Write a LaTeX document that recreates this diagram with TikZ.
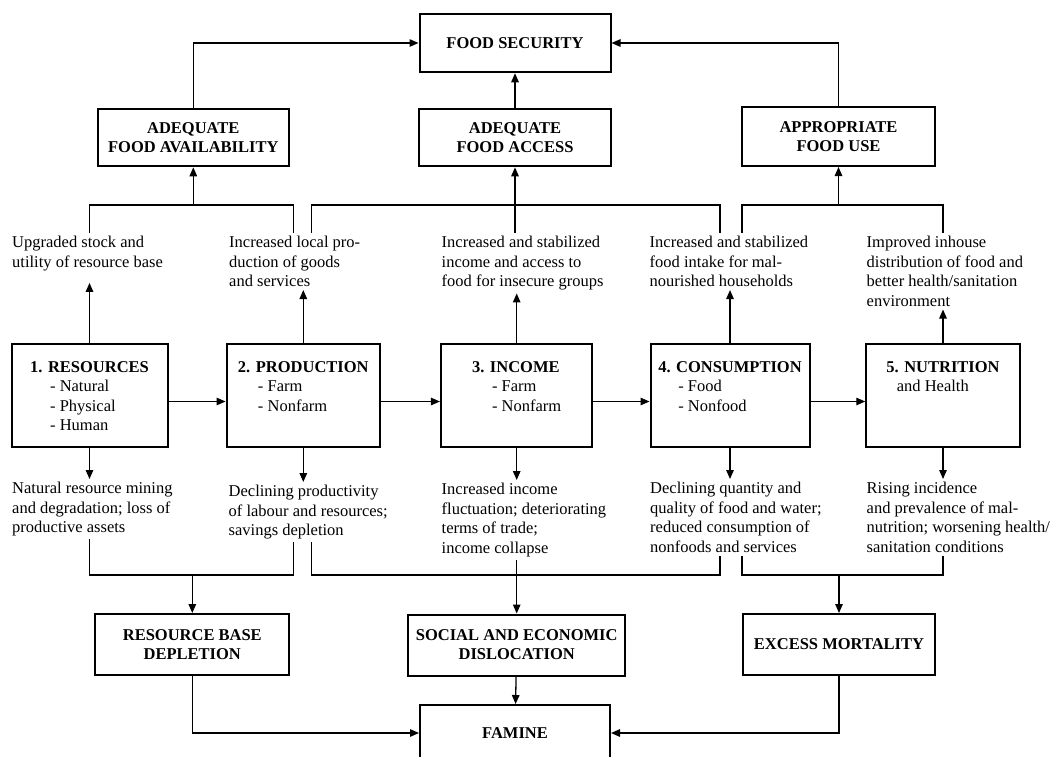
\documentclass[tikz,border=0pt]{standalone}
\usepackage{fontspec}
\setmainfont{Liberation Serif}
\usetikzlibrary{arrows.meta,calc}
\newcommand{\stagebox}[5]{% name, x center, width, title, lines
\node[stage, minimum width=#3pt] (#1) at (#2,395.5) {};
\node[stagetext] (#1t) at ([yshift=-18pt]#1.north) {\textbf{#4}\\#5};
}
\newcommand{\goalbox}[6]{% name, x, y, width, height, text
\node[goal, minimum width=#4pt, minimum height=#5pt] (#1) at (#2,#3) {#6};
}

\begin{document}
\begin{tikzpicture}[x=1pt,y=-1pt,
	font=\fontsize{16.5}{19.5}\selectfont,
	stage/.style={draw, line width=2pt, minimum height=103pt, inner sep=0pt},
	stagetext/.style={anchor=north, align=left, inner sep=0pt},
	goal/.style={draw, line width=2pt, align=center, inner sep=0pt, font=\fontsize{16.5}{19}\selectfont\bfseries},
	note/.style={anchor=north west, align=left, inner xsep=0pt, inner ysep=3pt},
	line/.style={line width=1.3pt},
	arr/.style={line width=1.3pt, -{Triangle[length=9pt,width=7.5pt]}}]
	\useasboundingbox (0,0) rectangle (1062,756);

			\goalbox{fs}{515}{43}{191}{58.5}{FOOD SECURITY}
			\goalbox{avail}{193.3}{137.4}{190.6}{57.8}{ADEQUATE\\FOOD AVAILABILITY}
			\goalbox{access}{515}{137.4}{191.2}{57.8}{ADEQUATE\\FOOD ACCESS}
			\goalbox{use}{838.5}{136.5}{193}{59}{APPROPRIATE\\FOOD USE}

			\stagebox{b1}{89.5}{156}{1. RESOURCES}{\hspace*{20pt}- Natural\\\hspace*{20pt}- Physical\\\hspace*{20pt}- Human}
			\stagebox{b2}{303.3}{153.5}{2. PRODUCTION}{\hspace*{20pt}- Farm\\\hspace*{20pt}- Nonfarm}
			\stagebox{b3}{516.7}{151.5}{3. INCOME}{\hspace*{20pt}- Farm\\\hspace*{20pt}- Nonfarm}
			\stagebox{b4}{730}{159}{4. CONSUMPTION}{\hspace*{20pt}- Food\\\hspace*{20pt}- Nonfood}
			\stagebox{b5}{943}{153.5}{5. NUTRITION}{\hspace*{10.5pt}and Health}

			\goalbox{rbd}{192.3}{644.5}{194}{61}{RESOURCE BASE\\DEPLETION}
			\goalbox{social}{516.7}{645}{217.4}{61}{SOCIAL AND ECONOMIC\\DISLOCATION}
			\goalbox{mort}{839}{644.3}{192}{60.6}{EXCESS MORTALITY}
			\goalbox{famine}{515}{733}{190}{56}{FAMINE}

			\node[note] (up1) at (12,233) {Upgraded stock and\\utility of resource base};
			\node[note] (up2) at (229,233) {Increased local pro-\\duction of goods\\and services};
			\node[note] (up3) at (441.5,233) {Increased and stabilized\\income and access to\\food for insecure groups};
			\node[note] (up4) at (649.5,233) {Increased and stabilized\\food intake for mal-\\nourished households};
			\node[note] (up5) at (866.5,233) {Improved inhouse\\distribution of food and\\better health/sanitation\\environment};

			\node[note] (low1) at (12,479) {Natural resource mining\\and degradation; loss of\\productive assets};
			\node[note] (low2) at (228.5,482) {Declining productivity\\of labour and resources;\\savings depletion};
			\node[note] (low3) at (441.5,480) {Increased income\\fluctuation; deteriorating\\terms of trade;\\income collapse};
			\node[note] (low4) at (650,479) {Declining quantity and\\quality of food and water;\\reduced consumption of\\nonfoods and services};
			\node[note] (low5) at (866.5,479) {Rising incidence\\and prevalence of mal-\\nutrition; worsening health/\\sanitation conditions};

			\coordinate (ka) at (193.3,205);
			\coordinate (kb) at (515,205);
			\coordinate (kc) at (838.5,205);
			\coordinate (kd) at (192.3,575);
			\coordinate (ke) at (516.7,575);
			\coordinate (kf) at (839,575);

			\draw[arr] (avail) |- (fs);
			\draw[arr] (access) -- (fs);
			\draw[arr] (use) |- (fs);

			\draw[line] (up1.north -| b1.north) |- (ka) -| ($(up2.north -| b2.north)+(-10,0)$);
			\draw[arr] (ka) -- (avail);
			\draw[line] ($(up2.north -| b2.north)+(8,0)$) |- (kb) -| ($(up4.north -| b4.north)+(-10,0)$);
			\draw[arr] (up3.north -| kb) -- (access);
			\draw[line] ($(up4.north -| b4.north)+(12,0)$) |- (kc) -| (up5.north -| b5.north);
			\draw[arr] (kc) -- (use);

			\draw[arr] (b1) -- ($(b1.north |- up1.south)+(0,9)$);
			\draw[arr] (b2) -- (b2.north |- up2.south);
			\draw[arr] (b3) -- (b3.north |- up3.south);
			\draw[arr] (b4) -- (b4.north |- up4.south);
			\draw[arr] (b5) -- (b5.north |- up5.south);

			\draw[arr] ([yshift=-6pt]b1.east) -- ([yshift=-6pt]b2.west);
			\draw[arr] ([yshift=-6pt]b2.east) -- ([yshift=-6pt]b3.west);
			\draw[arr] ([yshift=-6pt]b3.east) -- ([yshift=-6pt]b4.west);
			\draw[arr] ([yshift=-6pt]b4.east) -- ([yshift=-6pt]b5.west);

			\draw[arr] (b1) -- (b1.south |- low1.north);
			\draw[arr] (b2) -- (b2.south |- low2.north);
			\draw[arr] (b3) -- (b3.south |- low3.north);
			\draw[arr] (b4) -- (b4.south |- low4.north);
			\draw[arr] (b5) -- (b5.south |- low5.north);

			\draw[line] (low1.south -| b1.south) |- (kd) -| ($(low2.south -| b2.south)+(-10,0)$);
			\draw[arr] (kd) -- (rbd);
			\draw[line] ($(low2.south -| b2.south)+(8,0)$) |- (ke) -| ($(low4.south -| b4.south)+(-10,0)$);
			\draw[arr] (low3.south -| ke) -- (social);
			\draw[line] ($(low4.south -| b4.south)+(12,0)$) |- (kf) -| (low5.south -| b5.south);
			\draw[arr] (kf) -- (mort);

			\draw[arr] (rbd) |- (famine);
			\draw[arr] (social) -- (famine);
			\draw[arr] (mort) |- (famine);
\end{tikzpicture}
\end{document}
